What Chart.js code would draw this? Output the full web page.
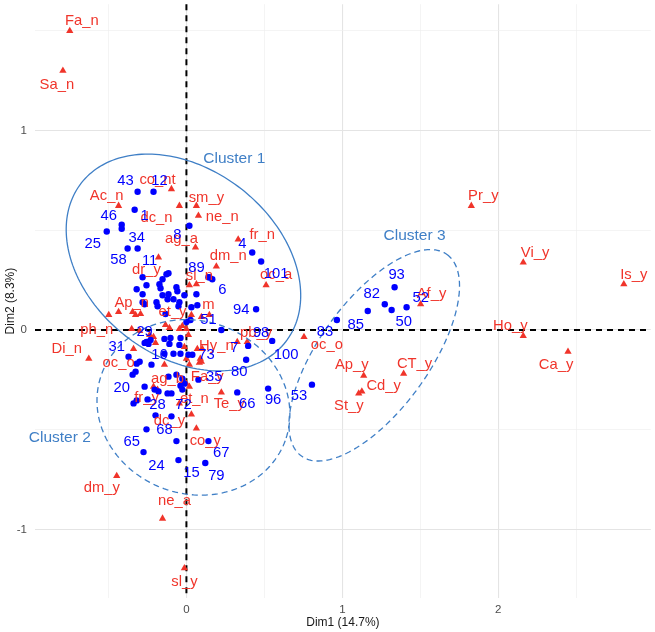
<!DOCTYPE html>
<html><head><meta charset="utf-8">
<script src="https://cdn.jsdelivr.net/npm/chart.js@4.4.0/dist/chart.umd.min.js"></script>
<style>html,body{margin:0;padding:0;background:#fff}#c{display:block}</style>
</head><body><canvas id="c" width="655" height="632"></canvas>
<script>
// ---- Variable categories (red triangles) ----
const varNames = ['Fa_n','Sa_n','co_nt','Ac_n','dc_n','sm_y','ne_n','ag_a','dr_y','fr_n','dm_n','oc_a','sl_n','m','Ap_n','ph_n','et_y','Di_n','oc_o','pb_y','oc_o','Hy_n','Fa_y','ag_b','fr_y','et_n','Te_y','dc_y','co_y','dm_y','ne_a','sl_y','Ap_y','CT_y','Cd_y','St_y','Af_y','Pr_y','Vi_y','Is_y','Ho_y','Ca_y',
  '','','','','','','','','','','','','','','','','','','','','','','','',''];
const varX = [-0.748,-0.792,-0.096,-0.435,-0.045,0.064,0.077,0.058,-0.179,0.332,0.192,0.511,0.019,0.096,-0.435,-0.498,-0.134,-0.626,-0.339,0.390,0.754,0.102,0.089,-0.211,-0.185,0.019,0.224,0.032,0.064,-0.447,-0.153,-0.013,1.137,1.393,1.125,1.105,1.502,1.827,2.160,2.805,2.160,2.447,
  -0.326,-0.294,-0.236,-0.211,-0.198,-0.026,0,-0.013,0,0.064,0.326,0.070,0.096,-0.351,-0.300,-0.109,-0.045,0.013,0.083,0.019,0,-0.045,0.032,0.147,-0.345,-0.141];
const varY = [1.498,1.299,0.706,0.622,0.622,0.622,0.572,0.413,0.363,0.453,0.318,0.224,0.224,0.065,0.090,0.075,0.025,-0.144,-0.095,-0.060,-0.035,-0.095,-0.144,-0.284,-0.299,-0.284,-0.313,-0.423,-0.493,-0.731,-0.945,-1.194,-0.229,-0.219,-0.308,-0.318,0.129,0.622,0.338,0.229,-0.030,-0.109,
  0.075,0.080,-0.025,-0.035,-0.065,0.020,0.005,-0.085,-0.144,0.229,-0.060,-0.095,-0.159,0.005,-0.005,0.010,0.005,-0.025,-0.164,-0.174,-0.269,-0.368,0.075,0.075,0.090,-0.174];
const varLabelX = [-0.671,-0.831,-0.185,-0.511,-0.192,0.128,0.230,-0.032,-0.256,0.486,0.268,0.575,0.083,0.141,-0.351,-0.575,-0.089,-0.767,-0.435,0.447,0.901,0.192,0.134,-0.121,-0.256,0.051,0.275,-0.109,0.121,-0.543,-0.077,-0.013,1.061,1.463,1.265,1.042,1.572,1.904,2.236,2.869,2.077,2.371];
const varLabelY = [1.547,1.229,0.751,0.672,0.562,0.662,0.567,0.458,0.299,0.478,0.373,0.274,0.269,0.124,0.134,0,0.090,-0.095,-0.164,-0.015,-0.075,-0.080,-0.234,-0.244,-0.343,-0.348,-0.373,-0.458,-0.557,-0.791,-0.856,-1.264,-0.174,-0.169,-0.279,-0.383,0.179,0.672,0.388,0.274,0.020,-0.174];

// ---- Individuals (blue points) ----
const indNames = ['43','12','46','25','34','58','11','1','89','8','4','101','6','94','51','98','100','7','73','80','35','66','96','53','29','31','16','20','28','72','68','65','24','15','67','79','93','82','52','50','85','83'];
const indX = [-0.313,-0.211,-0.415,-0.511,-0.313,-0.377,-0.281,-0.332,0.141,0.019,0.422,0.479,0.166,0.447,0.026,0.396,0.550,0.224,0.038,0.383,0.077,0.326,0.524,0.805,-0.256,-0.371,-0.224,-0.345,-0.249,-0.038,-0.096,-0.256,-0.275,-0.051,0.141,0.121,1.335,1.272,1.412,1.316,1.163,0.965,
  -0.415,-0.153,-0.128,-0.115,-0.173,-0.319,-0.256,-0.281,-0.166,-0.153,-0.115,-0.121,-0.192,-0.281,-0.268,-0.064,-0.058,-0.045,-0.051,-0.083,0.064,0.070,0.032,-0.134,0,-0.185,-0.013,
  -0.243,-0.268,-0.230,-0.141,-0.102,-0.038,-0.109,-0.045,-0.083,-0.038,0.013,-0.141,-0.319,-0.326,-0.300,-0.064,-0.026,-0.268,-0.204,-0.179,-0.121,-0.096,-0.026,-0.339,-0.319,-0.013,-0.198,-0.064,-0.115,0.147];
const indY = [0.692,0.692,0.527,0.493,0.408,0.408,0.264,0.602,0.264,0.522,0.388,0.343,0.254,0.104,0.050,-0.080,-0.055,0,-0.124,-0.149,-0.249,-0.313,-0.294,-0.274,-0.060,-0.134,-0.174,-0.224,-0.348,-0.279,-0.433,-0.498,-0.612,-0.652,-0.557,-0.667,0.214,0.129,0.114,0.100,0.095,0.050,
  0.507,0.254,0.279,0.284,0.229,0.204,0.224,0.179,0.209,0.174,0.179,0.154,0.139,0.139,0.129,0.214,0.194,0.139,0.119,0.154,0.179,0.124,0.114,0.080,0.040,0.119,0.174,
  -0.070,-0.065,-0.050,-0.045,-0.040,-0.040,-0.070,-0.075,-0.119,-0.119,-0.124,-0.119,-0.169,-0.209,-0.159,-0.224,-0.244,-0.284,-0.299,-0.308,-0.318,-0.318,-0.299,-0.368,-0.353,-0.269,-0.428,-0.557,-0.234,0.264];
const indLabelX = [-0.390,-0.173,-0.498,-0.601,-0.319,-0.435,-0.236,-0.268,0.064,-0.058,0.358,0.575,0.230,0.351,0.141,0.479,0.639,0.307,0.128,0.339,0.179,0.390,0.556,0.722,-0.268,-0.447,-0.173,-0.415,-0.185,-0.019,-0.141,-0.351,-0.192,0.032,0.224,0.192,1.348,1.188,1.502,1.393,1.086,0.888];
const indLabelY = [0.746,0.746,0.572,0.433,0.463,0.353,0.348,0.572,0.313,0.478,0.433,0.279,0.199,0.100,0.050,-0.015,-0.124,-0.090,-0.124,-0.209,-0.234,-0.373,-0.353,-0.333,-0.010,-0.085,-0.124,-0.289,-0.378,-0.378,-0.502,-0.562,-0.682,-0.716,-0.617,-0.731,0.274,0.179,0.159,0.040,0.025,-0.010];

// ---- Cluster ellipses (centre and two semi-axis vectors, data units) ----
const clusterNames = ['Cluster 1','Cluster 2','Cluster 3'];
const clusterCX = [-0.019, 0.045, 1.2045];
const clusterCY = [0.338, -0.388, -0.127];
const clusterUX = [0.6546, 0.5886, 0.4665];
const clusterUY = [-0.3984, -0.1668, 0.5050];
const clusterVX = [-0.3700, -0.1901, 0.2854];
const clusterVY = [-0.3690, -0.4069, -0.1598];
const clusterDashed = [false, true, true];
const clusterLabelX = [0.307, -0.812, 1.463];
const clusterLabelY = [0.856, -0.542, 0.473];

// ---- Axes ----
const xTicks = [-0.5, 0, 0.5, 1, 1.5, 2, 2.5];
const yTicks = [-1, -0.5, 0, 0.5, 1, 1.5];
const xTitle = 'Dim1 (14.7%)';
const yTitle = 'Dim2 (8.3%)';

const RED = '#F0342A';
const BLUE = '#0000FF';
const ELL = '#3F7FC6';
const FONT = '"Liberation Sans", Arial, Helvetica, sans-serif';

const overlay = {
  id: 'overlay',
  beforeDatasetsDraw(chart) {
    const {ctx, chartArea: a, scales: {x, y}} = chart;
    ctx.save();
    ctx.strokeStyle = '#000';
    ctx.lineWidth = 2;
    ctx.setLineDash([6, 5]);
    const x0 = x.getPixelForValue(0), y0 = y.getPixelForValue(0);
    ctx.beginPath(); ctx.moveTo(a.left, y0); ctx.lineTo(a.right, y0); ctx.stroke();
    ctx.beginPath(); ctx.moveTo(x0, a.top); ctx.lineTo(x0, a.bottom); ctx.stroke();
    ctx.restore();
  },
  afterDatasetsDraw(chart) {
    const {ctx, scales: {x, y}} = chart;
    ctx.save();
    for (let k = 0; k < clusterNames.length; k++) {
      ctx.strokeStyle = ELL; ctx.lineWidth = 1.3;
      ctx.setLineDash(clusterDashed[k] ? [6, 4] : []);
      ctx.beginPath();
      for (let i = 0; i <= 200; i++) {
        const t = i / 200 * Math.PI * 2;
        const dx = clusterCX[k] + clusterUX[k] * Math.cos(t) + clusterVX[k] * Math.sin(t);
        const dy = clusterCY[k] + clusterUY[k] * Math.cos(t) + clusterVY[k] * Math.sin(t);
        const px = x.getPixelForValue(dx), py = y.getPixelForValue(dy);
        if (i === 0) ctx.moveTo(px, py); else ctx.lineTo(px, py);
      }
      ctx.closePath(); ctx.stroke();
    }
    ctx.setLineDash([]);
    ctx.textAlign = 'center'; ctx.textBaseline = 'middle';
    ctx.font = '15.5px ' + FONT; ctx.fillStyle = ELL;
    for (let k = 0; k < clusterNames.length; k++) {
      ctx.fillText(clusterNames[k], x.getPixelForValue(clusterLabelX[k]), y.getPixelForValue(clusterLabelY[k]));
    }
    ctx.font = '14.8px ' + FONT;
    ctx.fillStyle = RED;
    for (let i = 0; i < varLabelX.length; i++) {
      if (!varNames[i]) continue;
      ctx.fillText(varNames[i], x.getPixelForValue(varLabelX[i]), y.getPixelForValue(varLabelY[i]));
    }
    ctx.fillStyle = BLUE;
    for (let i = 0; i < indLabelX.length; i++) {
      ctx.fillText(indNames[i], x.getPixelForValue(indLabelX[i]), y.getPixelForValue(indLabelY[i]));
    }
    ctx.restore();
  }
};

const gridColor = (c) => (Number.isInteger(c.tick && c.tick.value) ? '#E4E4E4' : '#EFEFEF');
const gridWidth = (c) => (Number.isInteger(c.tick && c.tick.value) ? 1.1 : 0.7);

new Chart(document.getElementById('c'), {
  type: 'scatter',
  data: {
    datasets: [
      { label: 'ind', data: indX.map((v, i) => ({x: v, y: indY[i]})), pointStyle: 'circle', pointRadius: 3.2, pointBackgroundColor: BLUE, pointBorderWidth: 0, borderWidth: 0 },
      { label: 'var', data: varX.map((v, i) => ({x: v, y: varY[i]})), pointStyle: 'triangle', pointRadius: 4.2, pointBackgroundColor: RED, pointBorderWidth: 0, borderWidth: 0 }
    ]
  },
  options: {
    responsive: false, animation: false, devicePixelRatio: 1,
    layout: { padding: { left: 0, right: 2, top: 0, bottom: 0 } },
    plugins: { legend: { display: false }, tooltip: { enabled: false } },
    scales: {
      x: {
        type: 'linear', min: -0.971, max: 2.978,
        afterBuildTicks: (s) => { s.ticks = xTicks.map(v => ({value: v})); },
        afterFit: (s) => { s.height = 34; s.paddingLeft = 0; s.paddingRight = 0; },
        grid: { color: gridColor, lineWidth: gridWidth, drawTicks: false },
        border: { display: false },
        ticks: { padding: 5, color: '#4D4D4D', font: { family: FONT, size: 11.5 }, maxRotation: 0, autoSkip: false,
          callback: (v) => (Number.isInteger(v) ? String(v) : '') },
        title: { display: true, text: xTitle, color: '#1a1a1a', font: { family: FONT, size: 12 }, padding: { top: 0, bottom: 2 } }
      },
      y: {
        type: 'linear', min: -1.343, max: 1.632,
        afterBuildTicks: (s) => { s.ticks = yTicks.map(v => ({value: v})); },
        afterFit: (s) => { s.width = 35; s.paddingTop = 0; s.paddingBottom = 0; },
        grid: { color: gridColor, lineWidth: gridWidth, drawTicks: false },
        border: { display: false },
        ticks: { padding: 8, color: '#4D4D4D', font: { family: FONT, size: 11.5 }, autoSkip: false,
          callback: (v) => (Number.isInteger(v) ? String(v) : '') },
        title: { display: true, text: yTitle, color: '#1a1a1a', font: { family: FONT, size: 12 }, padding: { top: 3, bottom: 0 } }
      }
    }
  },
  plugins: [overlay]
});
</script></body></html>
